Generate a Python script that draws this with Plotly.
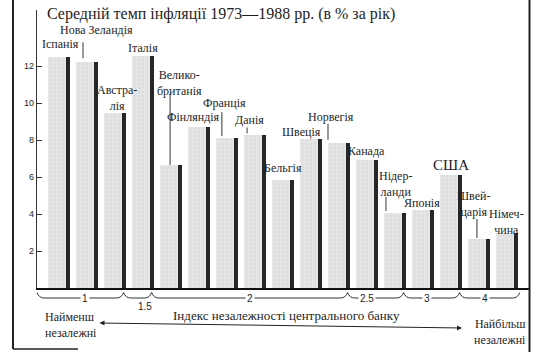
import plotly.graph_objects as go

# ---------------- data ----------------
countries = ["Іспанія", "Нова Зеландія", "Австралія", "Італія", "Великобританія",
             "Фінляндія", "Франція", "Данія", "Бельгія", "Швеція", "Норвегія",
             "Канада", "Нідерланди", "Японія", "США", "Швейцарія", "Німеччина"]
label_text = ["Іспанія", "Нова Зеландія", "Австра-<br>лія", "Італія", "Велико-<br>британія",
              "Фінляндія", "Франція", "Данія", "Бельгія", "Швеція", "Норвегія",
              "Канада", "Нідер-<br>ланди", "Японія", "США", "Швей-<br>царія", "Німеч-<br>чина"]
inflation = [12.5, 12.2, 9.45, 12.55, 6.65, 8.7, 8.1, 8.25, 5.85, 8.05, 7.85,
             6.9, 4.05, 4.2, 6.1, 2.65, 2.95]
index_groups = ["1", "1.5", "2", "2.5", "3", "4"]
group_first = [0, 3, 4, 11, 13, 15]
group_last = [2, 3, 10, 12, 14, 16]
y_ticks = [2, 4, 6, 8, 10, 12]

title_text = "Середній темп інфляції 1973—1988 рр. (в % за рік)"
axis_text = "Індекс незалежності центрального банку"
left_text = "Найменш<br>незалежні"
right_text = "Найбільш<br>незалежні"

# ---------------- layout geometry ----------------
W, H = 537, 352
ML, MR, MT, MB = 37, 7, 10, 64
PW, PH = W - ML - MR, H - MT - MB
PX_PER_BAR = 28.0
PX_PER_UNIT = 18.5
X0 = -0.793
X1 = X0 + PW / PX_PER_BAR
Y1 = PH / PX_PER_UNIT


def px(X):  # pixel x -> paper
    return (X - ML) / PW


def py(Y):  # pixel y -> paper
    return (H - MB - Y) / PH


def xpix(x):  # data x -> pixel x
    return ML + (x - X0) * PX_PER_BAR


SERIF = "Liberation Serif, Times New Roman, serif"
SANS = "Liberation Sans, Arial, sans-serif"
INK = "#1e1e1e"

xs = list(range(len(countries)))

fig = go.Figure()
fig.add_trace(go.Bar(x=xs, y=inflation, width=0.64, offset=-0.4,
                     marker=dict(color="#e2e2e2", line=dict(width=0),
                                 pattern=dict(shape=".", fgcolor="#d2d2d2", bgcolor="#e5e5e5",
                                              size=4, solidity=0.25)),
                     hovertext=countries, showlegend=False))
fig.add_trace(go.Bar(x=xs, y=inflation, width=0.14, offset=0.25,
                     marker=dict(color="#262626", line=dict(width=0)),
                     hovertext=countries, showlegend=False))

annotations = []
shapes = []

# country labels: (dx in bar units, yshift in px above bar top)
label_pos = [(0.04, 13), (0.33, 32), (0.06, 15), (-0.01, 8), (0.31, 82),
             (-0.22, 10), (-0.08, 35), (-0.22, 15), (-0.01, 12), (-0.33, 7),
             (-0.29, 26), (-0.04, 9), (0.0, 29), (-0.04, 7), (0.0, 10),
             (-0.2, 35), (-0.02, 11)]
for i, (txt, v) in enumerate(zip(label_text, inflation)):
    dx, ys = label_pos[i]
    size = 15 if countries[i] == "США" else 12
    annotations.append(dict(x=i + dx, y=v, xref="x", yref="y", text=txt,
                            showarrow=False, yshift=ys, yanchor="middle",
                            xanchor="center", align="center",
                            font=dict(family=SERIF, size=size, color=INK)))

# leader lines: bar index -> (dx, bottom gap px, top px above bar top)
leaders = {1: (-0.15, 4, 20), 4: (-0.04, 0, 71), 6: (-0.19, 2, 26),
           7: (-0.29, 2, 8), 10: (-0.4, 3, 19), 12: (-0.33, 2, 16),
           15: (-0.08, 1, 20)}
for i, (dx, g0, g1) in leaders.items():
    v = inflation[i]
    shapes.append(dict(type="line", xref="x", yref="y",
                       x0=i + dx, x1=i + dx,
                       y0=v + g0 / PX_PER_UNIT, y1=v + g1 / PX_PER_UNIT,
                       line=dict(color="#333", width=1)))

# braces for central bank independence index
y_top, y_line = 292.5, 298
prev = ML
for k, lab in enumerate(index_groups):
    xa = prev
    xb = xpix(group_last[k] + 0.3) if k < len(index_groups) - 1 else xpix(16.45)
    path = (f"M {px(xa)},{py(y_top)} Q {px(xa + 2)},{py(y_line)} {px(xa + 7)},{py(y_line)} "
            f"L {px(xb - 7)},{py(y_line)} Q {px(xb - 2)},{py(y_line)} {px(xb)},{py(y_top)}")
    shapes.append(dict(type="path", xref="paper", yref="paper", path=path,
                       line=dict(color="#333", width=1)))
    xm = (xa + xb) / 2
    if lab == "1.5":
        annotations.append(dict(x=px(xm - 2), y=py(306), xref="paper", yref="paper",
                                text=lab, showarrow=False, yanchor="middle",
                                font=dict(family=SANS, size=10, color=INK)))
    else:
        annotations.append(dict(x=px(xm), y=py(298), xref="paper", yref="paper",
                                text=lab, showarrow=False, bgcolor="white", borderpad=1,
                                yanchor="middle",
                                font=dict(family=SANS, size=10, color=INK)))
    prev = xb

# title & bottom texts
annotations.append(dict(x=px(45), y=py(14), xref="paper", yref="paper", text=title_text,
                        showarrow=False, xanchor="left", yanchor="middle",
                        font=dict(family=SERIF, size=16, color=INK)))
annotations.append(dict(x=px(286), y=py(315), xref="paper", yref="paper", text=axis_text,
                        showarrow=False, xanchor="center", yanchor="middle",
                        font=dict(family=SERIF, size=13, color=INK)))
annotations.append(dict(x=px(43), y=py(325), xref="paper", yref="paper", text=left_text,
                        showarrow=False, xanchor="left", yanchor="middle", align="left",
                        font=dict(family=SERIF, size=12, color=INK)))
annotations.append(dict(x=px(528), y=py(332), xref="paper", yref="paper", text=right_text,
                        showarrow=False, xanchor="right", yanchor="middle", align="right",
                        font=dict(family=SERIF, size=12, color=INK)))
# double arrow
annotations.append(dict(x=px(462), y=py(328), xref="paper", yref="paper", text="",
                        showarrow=True, axref="pixel", ayref="pixel", ax=-364, ay=-5,
                        arrowhead=2, arrowside="end+start", arrowsize=1, arrowwidth=1,
                        arrowcolor="#222", standoff=0, startstandoff=0))

# page frame lines
shapes.append(dict(type="line", xref="paper", yref="paper", x0=px(13), x1=px(13),
                   y0=py(0), y1=py(349), line=dict(color="#222", width=2)))
shapes.append(dict(type="line", xref="paper", yref="paper", x0=px(529.5), x1=px(529.5),
                   y0=py(0), y1=py(352), line=dict(color="#222", width=2)))
shapes.append(dict(type="line", xref="paper", yref="paper", x0=px(13), x1=px(78),
                   y0=py(349), y1=py(349), line=dict(color="#222", width=1.5)))

fig.update_layout(
    width=W, height=H,
    margin=dict(l=ML, r=MR, t=MT, b=MB),
    paper_bgcolor="white", plot_bgcolor="white",
    barmode="overlay", bargap=0,
    showlegend=False,
    annotations=annotations, shapes=shapes,
    xaxis=dict(range=[X0, X1], showgrid=False, zeroline=False, showticklabels=False,
               ticks="", showline=True, linecolor="#111", linewidth=2, fixedrange=True),
    yaxis=dict(range=[0, Y1], tickvals=y_ticks, ticks="inside", ticklen=5, tickcolor="#333",
               showgrid=False, zeroline=False, showline=True, linecolor="#333", linewidth=1.2,
               tickfont=dict(family=SANS, size=9, color=INK), fixedrange=True),
)

fig.write_html("out.html")
